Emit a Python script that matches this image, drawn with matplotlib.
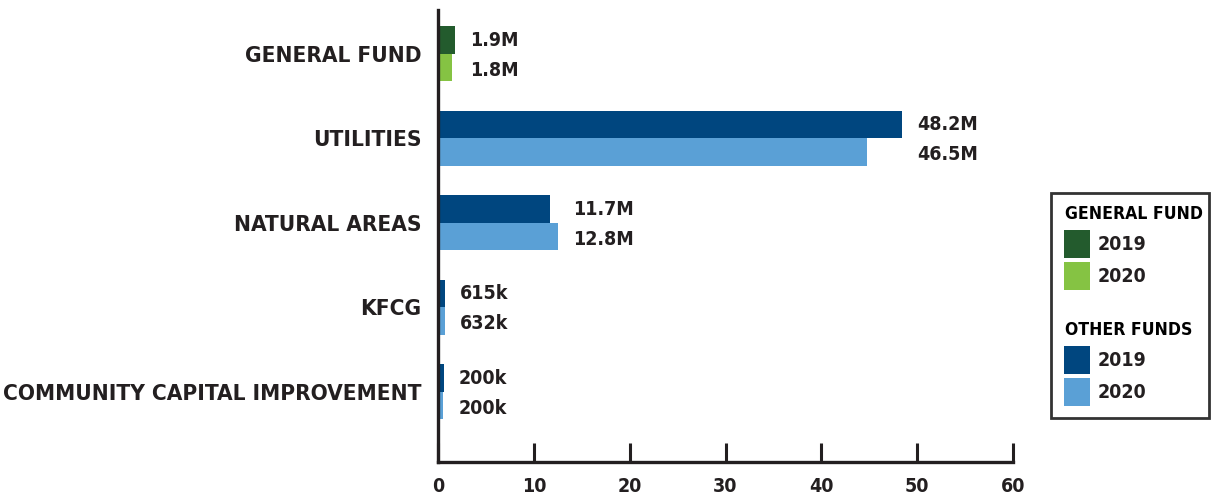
import numpy as np
import matplotlib
matplotlib.use('Agg')
import matplotlib.pyplot as plt
from matplotlib import font_manager as fm
from matplotlib.patches import Rectangle

# data (bar lengths in millions, labels as printed)
categories = ['GENERAL FUND', 'UTILITIES', 'NATURAL AREAS', 'KFCG', 'COMMUNITY CAPITAL IMPROVEMENT']
vals_2019 = [1.75, 48.4, 11.65, 0.7, 0.6]
vals_2020 = [1.45, 44.8, 12.5, 0.7, 0.5]
labels_2019 = ['1.9M', '48.2M', '11.7M', '615k', '200k']
labels_2020 = ['1.8M', '46.5M', '12.8M', '632k', '200k']
xticks = [0, 10, 20, 30, 40, 50, 60]

gf_colors = ['#235b2d', '#85c343']
other_colors = ['#00467f', '#5aa0d6']
txt_color = '#231f20'

names = {f.name for f in fm.fontManager.ttflist}
if 'Liberation Sans Narrow' in names:
    font = dict(family='Liberation Sans Narrow', weight='bold')
else:
    font = dict(family='DejaVu Sans', weight='bold', stretch='condensed')

fig = plt.figure(figsize=(12.11, 4.96), dpi=100)
ax = fig.add_axes([438 / 1211, 34 / 496, 575 / 1211, 452 / 496])

y = np.arange(len(categories))
h = 0.325
c2019 = [gf_colors[0] if i == 0 else other_colors[0] for i in range(len(categories))]
c2020 = [gf_colors[1] if i == 0 else other_colors[1] for i in range(len(categories))]
ax.barh(y - h / 2, vals_2019, height=h, color=c2019)
ax.barh(y + h / 2, vals_2020, height=h, color=c2020)

# value labels next to the longer bar of each pair
for i in range(len(categories)):
    xpos = max(vals_2019[i], vals_2020[i]) + 1.6
    ax.text(xpos, y[i] - h / 2, labels_2019[i], va='center', ha='left',
            fontsize=14, color=txt_color, **font)
    ax.text(xpos, y[i] + h / 2 + 0.03, labels_2020[i], va='center', ha='left',
            fontsize=14, color=txt_color, **font)

ax.set_xlim(0, 60)
ax.set_ylim(4.83, -0.52)
ax.set_xticks(xticks)
ax.set_xticklabels([str(t) for t in xticks])
ax.set_yticks(y)
ax.set_yticklabels(categories)
for lab in ax.get_yticklabels():
    lab.set(fontsize=16.2, color=txt_color, **font)
for lab in ax.get_xticklabels():
    lab.set(fontsize=14, color=txt_color, **font)
ax.tick_params(axis='y', length=0, pad=12)
ax.tick_params(axis='x', direction='in', length=14, width=2.2, color=txt_color, pad=11)
for s in ['top', 'right']:
    ax.spines[s].set_visible(False)
for s in ['left', 'bottom']:
    ax.spines[s].set_linewidth(2.4)
    ax.spines[s].set_color(txt_color)

# legend box drawn in pixel coordinates
lg = fig.add_axes([0, 0, 1, 1], facecolor='none')
lg.set_xlim(0, 1211)
lg.set_ylim(496, 0)
lg.axis('off')
lg.add_patch(Rectangle((1051, 193), 158, 225, fill=False, lw=2, ec='#333333'))
legend_rows = [
    ('GENERAL FUND', None, 214),
    ('2019', gf_colors[0], 244),
    ('2020', gf_colors[1], 276),
    ('OTHER FUNDS', None, 330),
    ('2019', other_colors[0], 360),
    ('2020', other_colors[1], 392),
]
for label, col, yy in legend_rows:
    if col is None:
        lg.text(1065, yy, label, va='center', ha='left', fontsize=12.6, color='black', **font)
    else:
        lg.add_patch(Rectangle((1064, yy - 14), 26, 27.5, color=col, lw=0))
        lg.text(1098, yy, label, va='center', ha='left', fontsize=14, color=txt_color, **font)

fig.savefig('out.png', dpi=100)
